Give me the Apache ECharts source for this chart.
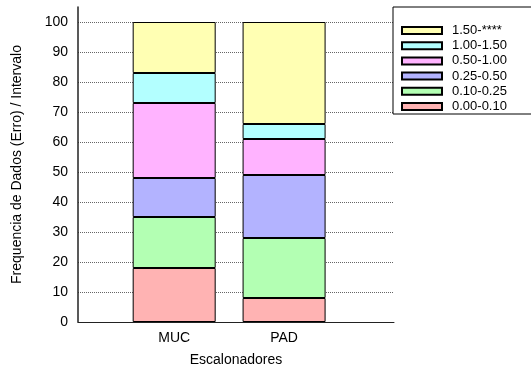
<!DOCTYPE html>
<html>
<head>
<meta charset="utf-8">
<script src="https://cdn.jsdelivr.net/npm/echarts@6/dist/echarts.min.js"></script>
<style>
  html, body { margin: 0; padding: 0; background: #fff; }
  #chart { width: 531px; height: 372px; }
</style>
</head>
<body>
<div id="chart"></div>
<script>
// Schedulers on the x axis, one stacked bar each
const categories = ['MUC', 'PAD'];
// Error intervals, bottom of the stack first
const intervals = ['0.00-0.10', '0.10-0.25', '0.25-0.50', '0.50-1.00', '1.00-1.50', '1.50-****'];
// Frequency (%) per interval for each scheduler
const mucValues = [18, 17, 13, 25, 10, 17];
const padValues = [8, 20, 21, 12, 5, 34];
const intervalColors = ['#ffb3b3', '#b3ffb3', '#b3b3ff', '#ffb3ff', '#b3ffff', '#ffffb3'];
const yTicks = [0, 10, 20, 30, 40, 50, 60, 70, 80, 90, 100];

const font = '"Liberation Sans", Arial, sans-serif';
const columns = [mucValues, padValues];

// Each item is [frequency, position]; the frequency column is the stacked one
const series = intervals.map((name, i) => ({
  name: name,
  type: 'bar',
  stack: 'total',
  barWidth: 83,
  encode: { x: 1, y: 0 },
  itemStyle: { color: intervalColors[i], borderColor: '#000', borderWidth: 1 },
  data: categories.map((c, j) => [columns[j][i], j])
}));

const chart = echarts.init(document.getElementById('chart'), null, { renderer: 'canvas' });
chart.setOption({
  animation: false,
  backgroundColor: '#fff',
  textStyle: { fontFamily: font },
  grid: { left: 78, right: 137, top: 7, bottom: 46 },
  legend: {
    orient: 'vertical',
    left: 393,
    top: 7,
    data: intervals.slice().reverse(),
    itemWidth: 40,
    itemHeight: 7,
    itemGap: 2.2,
    padding: [17, 60, 1, 8],
    borderColor: '#000',
    borderWidth: 1,
    borderRadius: 0,
    icon: 'rect',
    textStyle: { fontFamily: font, fontSize: 13, color: '#000', padding: [0, 0, 0, 5] }
  },
  xAxis: {
    type: 'value',
    min: -0.875,
    max: 2,
    name: 'Escalonadores',
    nameLocation: 'middle',
    nameGap: 31,
    nameTextStyle: { fontFamily: font, fontSize: 14, color: '#000' },
    axisLine: { show: true, onZero: false, lineStyle: { color: '#222', width: 1 } },
    axisTick: { show: false },
    splitLine: { show: false },
    axisLabel: {
      customValues: categories.map((c, j) => j),
      formatter: v => categories[Math.round(v)] || '',
      margin: 9,
      fontFamily: font,
      fontSize: 14,
      color: '#000'
    }
  },
  yAxis: {
    type: 'value',
    min: 0,
    max: 105,
    interval: 10,
    name: 'Frequencia de Dados (Erro) / Intervalo',
    nameLocation: 'middle',
    nameGap: 54,
    nameTextStyle: { fontFamily: font, fontSize: 14, color: '#000' },
    axisLine: { show: true, onZero: false, lineStyle: { color: '#222', width: 1.5 } },
    axisTick: { show: false },
    axisLabel: {
      customValues: yTicks,
      formatter: v => String(v),
      margin: 10,
      fontFamily: font,
      fontSize: 14,
      color: '#000'
    },
    splitLine: {
      show: true,
      showMinLine: false,
      showMaxLine: false,
      lineStyle: { color: '#666', type: [1, 1], width: 1 }
    }
  },
  series: series
});
</script>
</body>
</html>
